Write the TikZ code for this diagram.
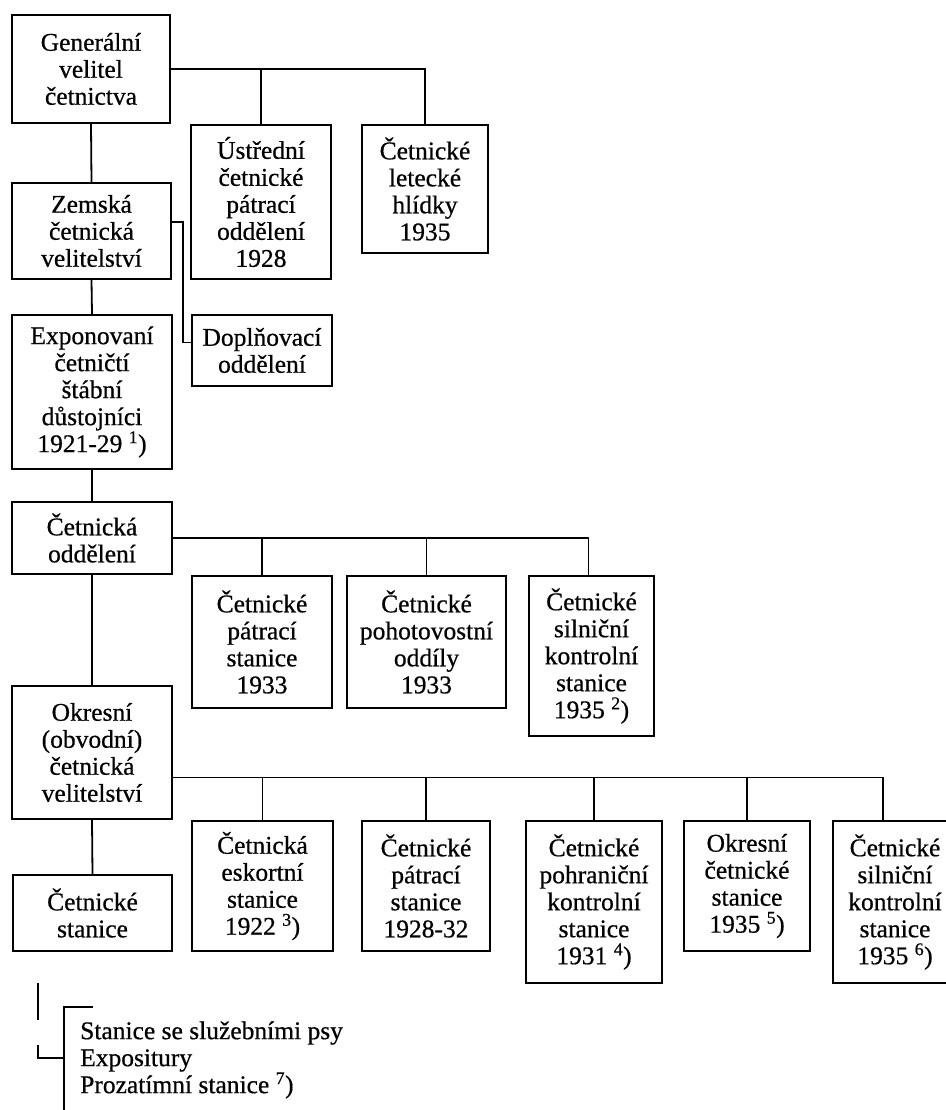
\documentclass[tikz,border=0pt]{standalone}
\usepackage{fontspec}
\setmainfont{Liberation Serif}[FakeBold=0.6]
\usetikzlibrary{calc}

\begin{document}
\begin{tikzpicture}[x=1pt, y=1pt, every node/.style={font=\fontsize{25.5}{27}\selectfont}]
\tikzstyle{box} = [rectangle, draw=black, line width=2.4pt, align=center, inner sep=0pt]
\tikzstyle{conn} = [line width=1.8pt]

\useasboundingbox (0,0) rectangle (945,1110);

% upper part
\node (gen) [box, minimum width=158, minimum height=108] at (91,1041) {Generální\\velitel\\četnictva};
\node (ustr) [box, minimum width=140, minimum height=154] at (261,908) {Ústřední\\četnické\\pátrací\\oddělení\\1928};
\node (let) [box, minimum width=126, minimum height=128] at (425,921) {Četnické\\letecké\\hlídky\\1935};
\node (zem) [box, minimum width=159, minimum height=96] at (91.5,879) {Zemská\\četnická\\velitelství};
\node (dopl) [box, minimum width=140, minimum height=71] at (262,759.5) {Doplňovací\\oddělení};
\node (expo) [box, minimum width=160, minimum height=154] at (92,718) {Exponovaní\\četničtí\\štábní\\důstojníci\\1921-29 \textsuperscript{1})};

% oddeleni
\node (odd) [box, minimum width=160, minimum height=72] at (92,572) {Četnická\\oddělení};
\node (pst) [box, minimum width=140, minimum height=132] at (262,468) {Četnické\\pátrací\\stanice\\1933};
\node (poh) [box, minimum width=159, minimum height=132] at (426.5,468) {Četnické\\pohotovostní\\oddíly\\1933};
\node (sil) [box, minimum width=125, minimum height=160] at (591.5,454) {Četnické\\silniční\\kontrolní\\stanice\\1935 \textsuperscript{2})};

% okresni velitelstvi
\node (okr) [box, minimum width=160, minimum height=133] at (92,357.5) {Okresní\\(obvodní)\\četnická\\velitelství};
\node (stan) [box, minimum width=159, minimum height=76] at (92.5,197) {Četnické\\stanice};
\node (esk) [box, minimum width=141, minimum height=130] at (262.5,224) {Četnická\\eskortní\\stanice\\1922 \textsuperscript{3})};
\node (pat2) [box, minimum width=128, minimum height=130] at (426,224) {Četnické\\pátrací\\stanice\\1928-32};
\node (pohr) [box, minimum width=136, minimum height=162] at (594,208) {Četnické\\pohraniční\\kontrolní\\stanice\\1931 \textsuperscript{4})};
\node (okst) [box, minimum width=126, minimum height=130] at (747,224) {Okresní\\četnické\\stanice\\1935 \textsuperscript{5})};
\node (sil2) [box, minimum width=124, minimum height=162] at (895,208) {Četnické\\silniční\\kontrolní\\stanice\\1935 \textsuperscript{6})};

% legend
\node (legend) [anchor=west, align=left, inner sep=0pt] at (80,50) {Stanice se služebními psy\\Expositury\\Prozatímní stanice \textsuperscript{7})};

\coordinate (okrbus) at ([yshift=-25]okr.east);
\coordinate (tick1) at (38,127);
\coordinate (tick2) at (38,90);
\coordinate (hook1) at (38,65);
\coordinate (hook2) at (38,52);
\coordinate (brtop) at (64,103);
\coordinate (brend) at (93,103);
\coordinate (brbot) at (64,0);

\draw[conn] (gen.east) -| (let.north);
\draw[conn] (ustr.north) |- (gen.east);
\draw[conn] (gen.south) -- (zem.north);
\draw[conn] ([yshift=9]zem.east) -- ++(11,0) |- ([yshift=8]dopl.west);
\draw[conn] (zem.south) -- (expo.north);
\draw[conn] (expo.south) -- (odd.north);

\draw[conn] (odd.east) -| ([xshift=-3]sil.north);
\draw[conn] (pst.north) |- (odd.east);
\draw[conn] (poh.north) |- (odd.east);
\draw[conn] (odd.south) -- (okr.north);

\draw[conn] (okrbus) -| ([xshift=-12]sil2.north);
\draw[conn] (esk.north) |- (okrbus);
\draw[conn] (pat2.north) |- (okrbus);
\draw[conn] (pohr.north) |- (okrbus);
\draw[conn] (okst.north) |- (okrbus);
\draw[conn] (okr.south) -- (stan.north);

\draw[conn] (tick1) -- (tick2);
\draw[conn] (hook1) -- (hook2) -| (brbot);
\draw[conn] (brend) -- (brtop) -- (brbot);

\end{tikzpicture}
\end{document}
